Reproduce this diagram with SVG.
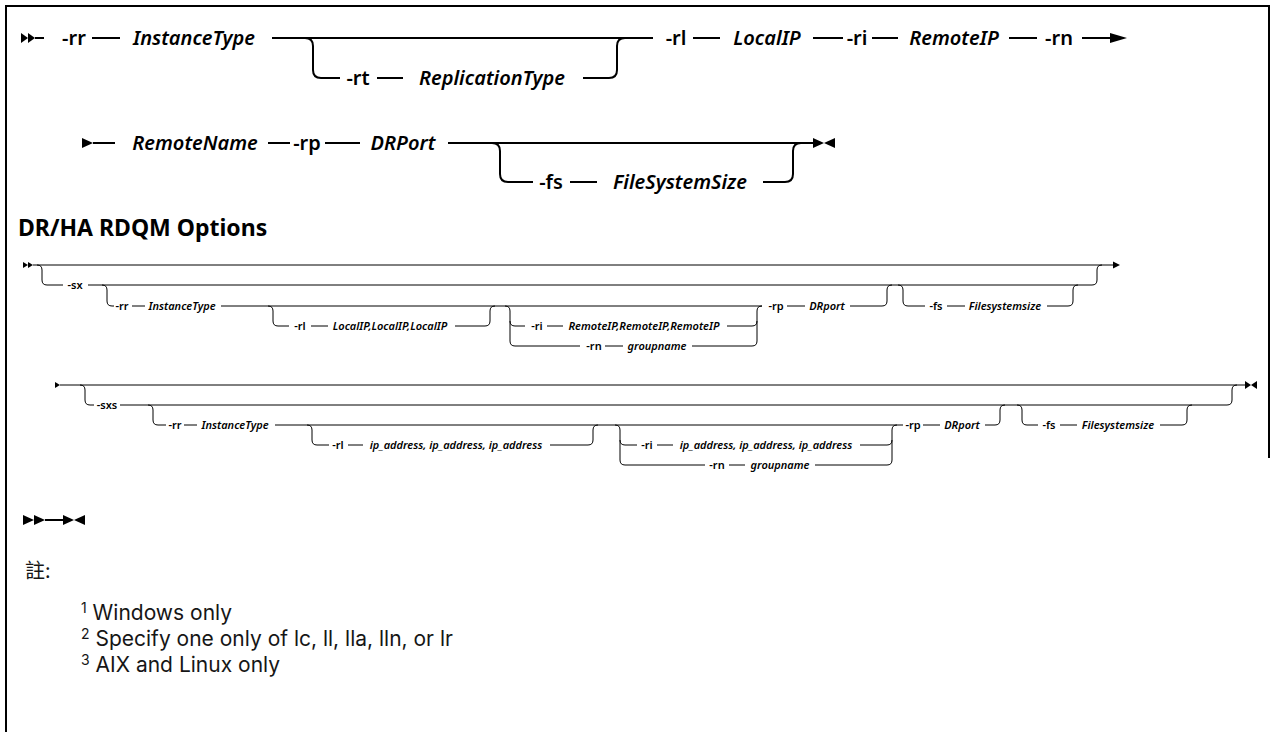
<svg xmlns="http://www.w3.org/2000/svg" width="1274" height="732" viewBox="0 0 1274 732">
<style>
.bl{stroke:#000;stroke-width:2;fill:none}
.sl{stroke:#000;stroke-width:1;fill:none}
.k{font-family:"Noto Sans","Liberation Sans",sans-serif;font-weight:600;font-size:20px;text-anchor:middle}
.v{font-family:"Noto Sans","Liberation Sans",sans-serif;font-weight:600;font-style:italic;font-size:20px;text-anchor:middle}
.sk{font-family:"Noto Sans","Liberation Sans",sans-serif;font-weight:600;font-size:11px;text-anchor:middle}
.sv{font-family:"Noto Sans","Liberation Sans",sans-serif;font-weight:600;font-style:italic;font-size:11px;text-anchor:middle}
.h{font-family:"Noto Sans","Liberation Sans",sans-serif;font-weight:700;font-size:23px}
.fn{font-family:Inter,"Liberation Sans",sans-serif;font-size:21px;fill:#161616}
</style>
<rect width="1274" height="732" fill="#fff"/>
<g id="frame" class="bl">
<path d="M6 732 V6 H1269 V458"/>
</g>
<g id="connectors">
<polygon points="21,33 28,38 21,43"/><polygon points="28,33 35,38 28,43"/>
<path class="bl" d="M35 38 H44 M92 38 H120 M272 38 H653"/>
<path class="bl" d="M305 38 Q313 38 313 46 V70 Q313 78 321 78 H340 M377 78 H403 M583 78 H609 Q617 78 617 70 V46 Q617 38 625 38"/>
<path class="bl" d="M693 38 H720 M813 38 H843 M872 38 H898 M1009 38 H1037 M1082 38 H1112"/>
<polygon points="1110,33 1127,38 1110,43"/>
<polygon points="82,138 93,143 82,148"/>
<path class="bl" d="M93 143 H115 M268 143 H290 M325 143 H360 M448 143 H813"/>
<path class="bl" d="M492 143 Q500 143 500 151 V174 Q500 182 508 182 H533 M570 182 H597 M763 182 H785 Q793 182 793 174 V151 Q793 143 801 143"/>
<polygon points="813,138 824,143 813,148"/><polygon points="835,138 824,143 835,148"/>
<polygon points="23,262 28,265 23,268"/><polygon points="28,262 33,265 28,268"/>
<path class="sl" d="M33 265 H1113"/>
<polygon points="1113,261.5 1120,265 1113,268.5"/>
<path class="sl" d="M37 265 Q42 265 42 270 V280 Q42 285 47 285 H63 M88 285 H1092 Q1097 285 1097 280 V270 Q1097 265 1102 265"/>
<path class="sl" d="M102 285 Q107 285 107 290 V301 Q107 306 112 306 H114 M132 306 H145 M221 306 H762"/>
<path class="sl" d="M268 306 Q273 306 273 311 V321 Q273 326 278 326 H289 M311 326 H328 M455 326 H485 Q490 326 490 321 V311 Q490 306 495 306"/>
<path class="sl" d="M505 306 Q510 306 510 311 V341 Q510 346 515 346 H580 M510 321 Q510 326 515 326 H525 M547 326 H563 M727 326 H752 Q757 326 757 321 M605 346 H623 M692 346 H752 Q757 346 757 341 V311 Q757 306 762 306"/>
<path class="sl" d="M787 306 H805 M850 306 H882 Q887 306 887 301 V290 Q887 285 892 285"/>
<path class="sl" d="M898 285 Q903 285 903 290 V301 Q903 306 908 306 H925 M947 306 H965 M1047 306 H1068 Q1073 306 1073 301 V290 Q1073 285 1078 285"/>
<polygon points="55,382 60,385 55,388"/>
<path class="sl" d="M60 385 H1245"/>
<polygon points="1245,381 1251,385 1245,389"/><polygon points="1257,381 1251,385 1257,389"/>
<path class="sl" d="M80 385 Q85 385 85 390 V400 Q85 405 90 405 H94 M120 405 H1227 Q1232 405 1232 400 V390 Q1232 385 1237 385"/>
<path class="sl" d="M148 405 Q153 405 153 410 V420 Q153 425 158 425 H166 M184 425 H197 M275 425 H903"/>
<path class="sl" d="M307 425 Q312 425 312 430 V440 Q312 445 317 445 H329 M348 445 H363 M550 445 H588 Q593 445 593 440 V430 Q593 425 598 425"/>
<path class="sl" d="M615 425 Q620 425 620 430 V460 Q620 465 625 465 H705 M620 440 Q620 445 625 445 H637 M657 445 H673 M860 445 H887 Q892 445 892 440 M729 465 H745 M815 465 H887 Q892 465 892 460 V430 Q892 425 897 425"/>
<path class="sl" d="M923 425 H940 M985 425 H995 Q1000 425 1000 420 V410 Q1000 405 1005 405"/>
<path class="sl" d="M1017 405 Q1022 405 1022 410 V420 Q1022 425 1027 425 H1038 M1060 425 H1077 M1160 425 H1182 Q1187 425 1187 420 V410 Q1187 405 1192 405"/>
<polygon points="23,515 34,520 23,525"/><polygon points="34,515 45,520 34,525"/>
<path class="bl" d="M45 520 H63"/>
<polygon points="63,515 74,520 63,525"/><polygon points="85,515 74,520 85,525"/>
</g>
<g id="row1">
<text class="k" x="74" y="45">-rr</text>
<text class="v" x="194" y="45">InstanceType</text>
<text class="k" x="358" y="85">-rt</text>
<text class="v" x="492" y="85">ReplicationType</text>
<text class="k" x="676" y="45">-rl</text>
<text class="v" x="767" y="45">LocalIP</text>
<text class="k" x="857" y="45">-ri</text>
<text class="v" x="954" y="45">RemoteIP</text>
<text class="k" x="1059" y="45">-rn</text>
</g>
<g id="row2">
<text class="v" x="195" y="150">RemoteName</text>
<text class="k" x="307" y="150">-rp</text>
<text class="v" x="403" y="150">DRPort</text>
<text class="k" x="551" y="189">-fs</text>
<text class="v" x="680" y="189">FileSystemSize</text>
</g>
<g id="heading">
<text class="h" x="18" y="236">DR/HA RDQM Options</text>
</g>
<g id="dr1">
<text class="sk" x="75" y="289">-sx</text>
<text class="sk" x="122" y="310">-rr</text>
<text class="sv" x="182" y="310">InstanceType</text>
<text class="sk" x="300" y="330">-rl</text>
<text class="sv" x="390" y="330">LocalIP,LocalIP,LocalIP</text>
<text class="sk" x="537" y="330">-ri</text>
<text class="sv" x="644" y="330">RemoteIP,RemoteIP,RemoteIP</text>
<text class="sk" x="594" y="350">-rn</text>
<text class="sv" x="657" y="350">groupname</text>
<text class="sk" x="776" y="310">-rp</text>
<text class="sv" x="827" y="310">DRport</text>
<text class="sk" x="936" y="310">-fs</text>
<text class="sv" x="1005" y="310">Filesystemsize</text>
</g>
<g id="dr2">
<text class="sk" x="107" y="409">-sxs</text>
<text class="sk" x="175" y="429">-rr</text>
<text class="sv" x="235" y="429">InstanceType</text>
<text class="sk" x="338" y="449">-rl</text>
<text class="sv" x="456" y="449">ip_address, ip_address, ip_address</text>
<text class="sk" x="647" y="449">-ri</text>
<text class="sv" x="766" y="449">ip_address, ip_address, ip_address</text>
<text class="sk" x="717" y="469">-rn</text>
<text class="sv" x="780" y="469">groupname</text>
<text class="sk" x="913" y="429">-rp</text>
<text class="sv" x="962" y="429">DRport</text>
<text class="sk" x="1049" y="429">-fs</text>
<text class="sv" x="1118" y="429">Filesystemsize</text>
</g>
<g id="notes">
<text x="25" y="578" style="font-family:'Noto Sans CJK TC','Noto Sans',sans-serif;font-size:20px;fill:#161616">註:</text>
<text class="fn" x="81" y="620"><tspan font-size="14" dy="-7">1</tspan><tspan dy="7"> Windows only</tspan></text>
<text class="fn" x="81" y="646"><tspan font-size="14" dy="-7">2</tspan><tspan dy="7"> Specify one only of lc, ll, lla, lln, or lr</tspan></text>
<text class="fn" x="81" y="672"><tspan font-size="14" dy="-7">3</tspan><tspan dy="7"> AIX and Linux only</tspan></text>
</g>
</svg>
